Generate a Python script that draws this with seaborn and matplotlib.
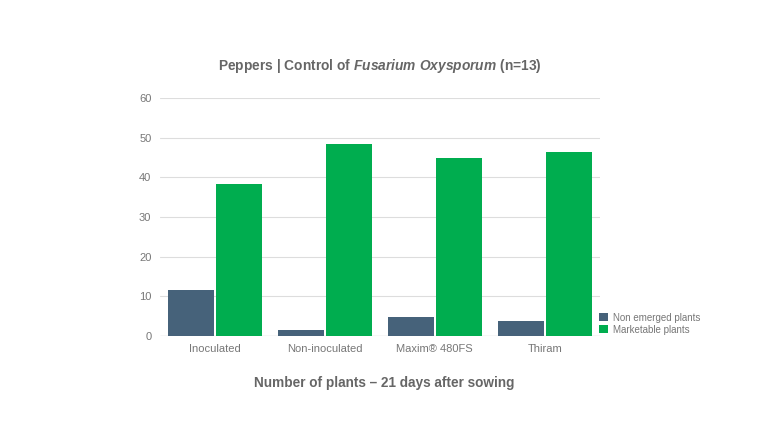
import pandas as pd
import seaborn as sns
import matplotlib.pyplot as plt

# ---- data ----
categories = ["Inoculated", "Non-inoculated", "Maxim® 480FS", "Thiram"]
non_emerged = [11.6, 1.5, 4.9, 3.8]
marketable = [38.4, 48.5, 45.0, 46.3]
series = ["Non emerged plants", "Marketable plants"]

df = pd.DataFrame({
    "treatment": categories * 2,
    "plants": non_emerged + marketable,
    "series": [series[0]] * 4 + [series[1]] * 4,
})

sns.set_theme(style="white")
plt.rcParams["font.family"] = ["Liberation Sans", "DejaVu Sans"]
plt.rcParams["mathtext.fontset"] = "custom"
plt.rcParams["mathtext.it"] = "Liberation Sans:italic:bold"
plt.rcParams["mathtext.rm"] = "Liberation Sans:bold"

GRAY = "#666666"
fig = plt.figure(figsize=(7.68, 4.32), dpi=100)
ax = fig.add_axes([0.208, 0.222, 0.573, 0.551])

sns.barplot(data=df, x="treatment", y="plants", hue="series",
            order=categories, hue_order=series,
            palette={series[0]: "#46627a", series[1]: "#00ad4f"},
            width=0.88, gap=0.05, saturation=1, linewidth=0, ax=ax)

ax.set_ylim(0, 60)
ax.set_yticks(range(0, 61, 10))
ax.grid(axis="y", color="#dddddd", linewidth=0.8)
ax.set_axisbelow(True)
for s in ax.spines.values():
    s.set_visible(False)
ax.axhline(0, color="#cccccc", linewidth=0.9, zorder=0)
ax.tick_params(axis="both", length=0, labelsize=8, colors="#777777", pad=6)
ax.set_xlabel("")
ax.set_ylabel("")

leg = ax.legend(loc="lower left", bbox_to_anchor=(0.99, -0.01), frameon=False,
                fontsize=7, labelcolor="#777777", handlelength=0.9, handleheight=0.9,
                handletextpad=0.5, labelspacing=0.2, borderaxespad=0)

fig.text(0.495, 0.848,
         r"Peppers | Control of $Fusarium\ Oxysporum$ (n=13)",
         ha="center", va="center", fontsize=9.9, fontweight="bold", color=GRAY)
fig.text(0.5, 0.113, "Number of plants – 21 days after sowing",
         ha="center", va="center", fontsize=9.8, fontweight="bold", color=GRAY)

fig.savefig("out.png", dpi=100)
